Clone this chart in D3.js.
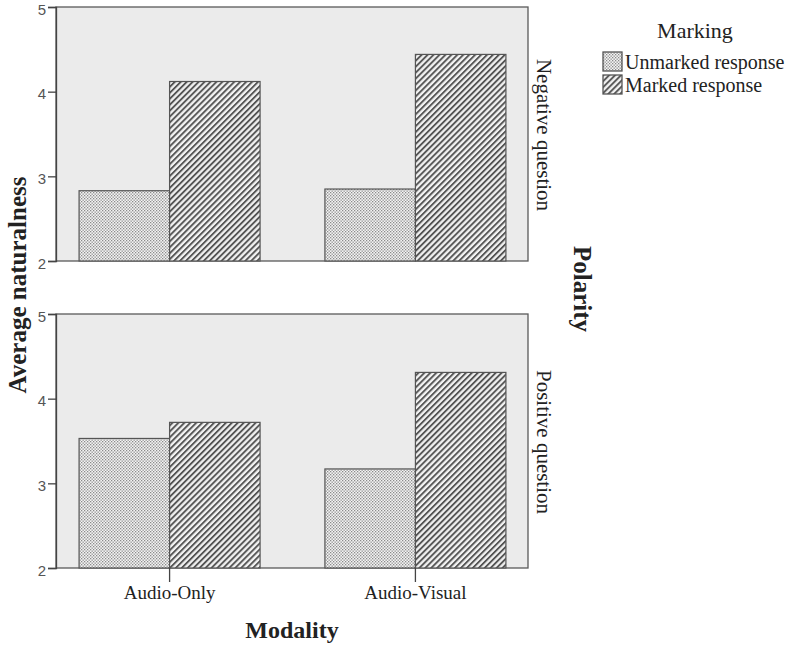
<!DOCTYPE html>
<html>
<head>
<meta charset="utf-8">
<script src="https://cdn.jsdelivr.net/npm/d3@7"></script>
<style>
  html, body { margin: 0; padding: 0; background: #fff; }
  svg { display: block; }
</style>
</head>
<body>
<svg id="chart" width="787" height="646"></svg>
<script>
// ---- data ----
const modalities = ["Audio-Only", "Audio-Visual"];
const polarities = ["Negative question", "Positive question"];
const markings = ["Unmarked response", "Marked response"];
const unmarkedValues = [[2.83, 2.85], [3.53, 3.17]];   // by polarity, then modality
const markedValues   = [[4.12, 4.44], [3.72, 4.31]];
const yTicks = [2, 3, 4, 5];

const svg = d3.select("#chart");
const serif = "'Liberation Serif', 'DejaVu Serif', serif";
const sans = "'Liberation Sans', Arial, sans-serif";

// patterns
const defs = svg.append("defs");
const dots = defs.append("pattern").attr("id", "dots").attr("patternUnits", "userSpaceOnUse")
  .attr("width", 3).attr("height", 3);
dots.append("rect").attr("width", 3).attr("height", 3).attr("fill", "#f4f4f4");
dots.append("rect").attr("x", 0).attr("y", 0).attr("width", 1.3).attr("height", 1.3).attr("fill", "#8a8a8a");
dots.append("rect").attr("x", 1.5).attr("y", 1.5).attr("width", 1.3).attr("height", 1.3).attr("fill", "#8a8a8a");

const hatch = defs.append("pattern").attr("id", "hatch").attr("patternUnits", "userSpaceOnUse")
  .attr("width", 4.2).attr("height", 4.2).attr("patternTransform", "rotate(45)");
hatch.append("rect").attr("width", 4.2).attr("height", 4.2).attr("fill", "#f2f2f2");
hatch.append("rect").attr("x", 0).attr("y", 0).attr("width", 1.9).attr("height", 4.2).attr("fill", "#555");

const fills = ["url(#dots)", "url(#hatch)"];

// layout
const left = 56, right = 528;
const panelBoxes = [{top: 7, bottom: 261}, {top: 314, bottom: 568}];

const x = d3.scalePoint().domain(modalities).range([left, right]).padding(0.46);
const sub = d3.scaleBand().domain(markings).range([-90, 91]).paddingInner(0).paddingOuter(0);

polarities.forEach((pol, pi) => {
  const box = panelBoxes[pi];
  const y = d3.scaleLinear().domain([2, 5]).range([box.bottom, box.top]);
  const g = svg.append("g");

  g.append("rect").attr("x", left).attr("y", box.top)
    .attr("width", right - left).attr("height", box.bottom - box.top)
    .attr("fill", "#ebebeb").attr("stroke", "#5a5a5a").attr("stroke-width", 1.3);

  const rows = modalities.map((m, mi) => [
    {m, k: markings[0], v: unmarkedValues[pi][mi], f: fills[0]},
    {m, k: markings[1], v: markedValues[pi][mi], f: fills[1]}
  ]).flat();

  g.selectAll("rect.bar").data(rows).join("rect").attr("class", "bar")
    .attr("x", d => x(d.m) + sub(d.k))
    .attr("width", sub.bandwidth())
    .attr("y", d => y(d.v))
    .attr("height", d => y(2) - y(d.v))
    .attr("fill", d => d.f)
    .attr("stroke", "#555").attr("stroke-width", 1.2);

  // y axis
  const ya = g.append("g").attr("transform", `translate(${left},0)`)
    .call(d3.axisLeft(y).tickValues(yTicks).tickFormat(d3.format("d")).tickSize(8).tickPadding(2));
  ya.select(".domain").attr("stroke", "#444").attr("stroke-width", 1.3);
  ya.selectAll(".tick line").attr("stroke", "#444").attr("stroke-width", 1.3);
  ya.selectAll(".tick text").attr("font-family", sans).attr("font-size", 15).attr("fill", "#555")
    .attr("y", 2.5);

  // panel label
  const cy = (box.top + box.bottom) / 2;
  g.append("text").attr("transform", `translate(${right + 9},${cy + 1}) rotate(90)`)
    .attr("text-anchor", "middle").attr("font-family", serif).attr("font-size", 21)
    .attr("fill", "#222").text(pol);

  if (pi === 1) {
    const xa = g.append("g").attr("transform", `translate(0,${box.bottom})`)
      .call(d3.axisBottom(x).tickSize(14).tickPadding(4));
    xa.select(".domain").remove();
    xa.selectAll(".tick line").attr("stroke", "#444").attr("stroke-width", 1.3);
    xa.selectAll(".tick text").attr("font-family", serif).attr("font-size", 19).attr("fill", "#222");
  }
});

// axis titles
svg.append("text").attr("transform", "translate(26,285) rotate(-90)")
  .attr("text-anchor", "middle").attr("font-family", serif).attr("font-size", 25)
  .attr("font-weight", "bold").attr("fill", "#222").text("Average naturalness");
svg.append("text").attr("x", 292).attr("y", 638)
  .attr("text-anchor", "middle").attr("font-family", serif).attr("font-size", 24)
  .attr("font-weight", "bold").attr("fill", "#222").text("Modality");
svg.append("text").attr("transform", "translate(574,289) rotate(90)")
  .attr("text-anchor", "middle").attr("font-family", serif).attr("font-size", 25)
  .attr("font-weight", "bold").attr("fill", "#222").text("Polarity");

// legend
const lg = svg.append("g");
lg.append("text").attr("x", 695).attr("y", 38).attr("text-anchor", "middle")
  .attr("font-family", serif).attr("font-size", 22).attr("fill", "#222").text("Marking");
markings.forEach((mk, i) => {
  const yy = 52 + i * 23;
  lg.append("rect").attr("x", 603).attr("y", yy).attr("width", 19).attr("height", 19)
    .attr("fill", fills[i]).attr("stroke", "#555").attr("stroke-width", 1.3);
  lg.append("text").attr("x", 625).attr("y", yy + 17)
    .attr("font-family", serif).attr("font-size", 20).attr("fill", "#222").text(mk);
});
</script>
</body>
</html>
